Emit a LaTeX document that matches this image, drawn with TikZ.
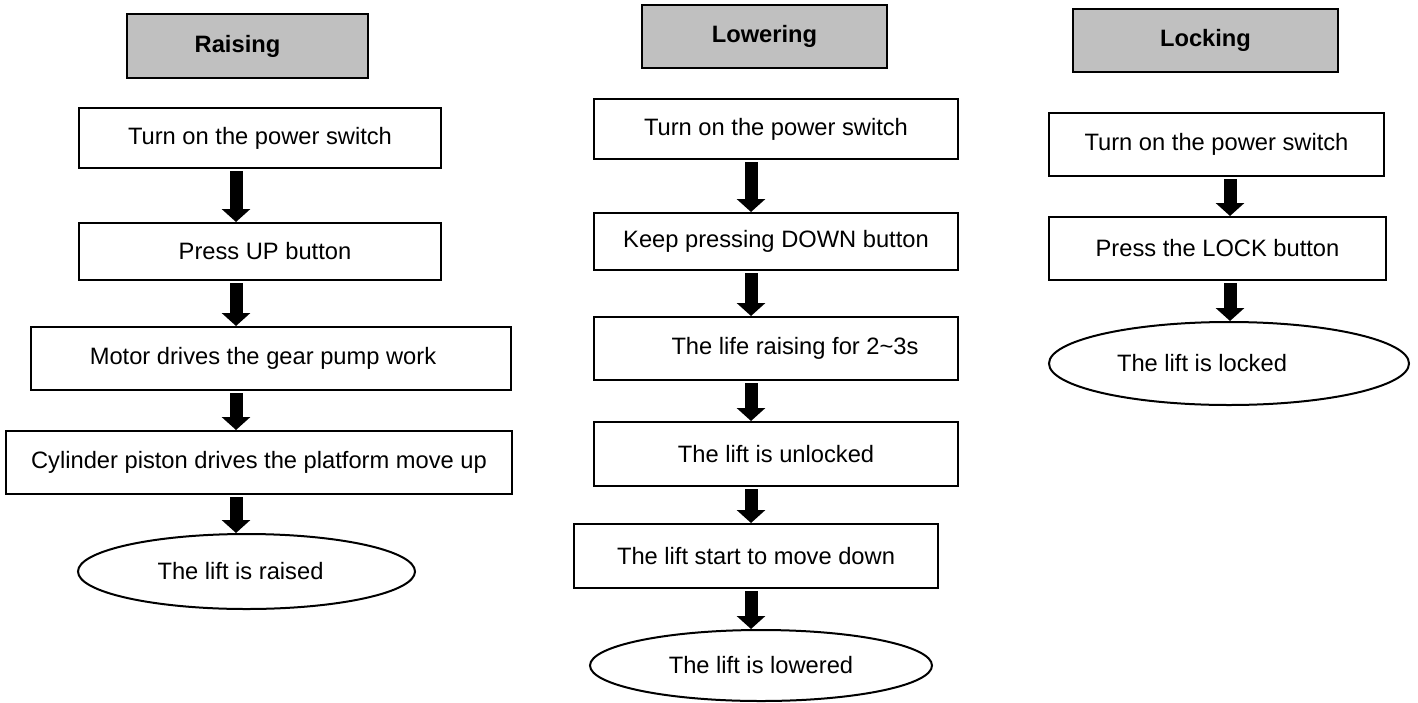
\documentclass[tikz,border=0pt]{standalone}
\usepackage{fontspec}
\setmainfont{Liberation Sans}
\usetikzlibrary{arrows.meta,shapes.geometric}
\newcommand{\flowfont}{\fontsize{11.85}{14}\selectfont}
\tikzset{
  stepbox/.style = {draw, line width=1pt, rectangle, inner sep=0pt, align=center},
  titlebox/.style = {stepbox, fill={rgb,255:red,192;green,192;blue,192}, font=\flowfont\bfseries},
  endoval/.style = {draw, line width=1pt, ellipse, inner sep=0pt},
  flow/.style = {line width=6.5pt, -{Triangle[width=14pt,length=6.5pt]}, shorten <=1pt}
}
\begin{document}
\begin{tikzpicture}[x = 0.5pt, y = -0.5pt, font = \flowfont]
	\useasboundingbox (0,0) rectangle (1418,702);
	% raising
	\node (R0) at (247.5,46) [titlebox, minimum width=120.5pt, minimum height=32pt] {Raising\hspace*{10pt}};
	\node (R1) at (260,138) [stepbox, minimum width=181pt, minimum height=30pt] {Turn on the power switch};
	\node (R2) at (260,251.5) [stepbox, minimum width=181pt, minimum height=28.5pt] {\hspace*{5pt}Press UP button};
	\node (R3) at (271,358.5) [stepbox, minimum width=240pt, minimum height=31.5pt] {Motor drives the gear pump work\hspace*{8pt}};
	\node (R4) at (259,462.5) [stepbox, minimum width=253pt, minimum height=31.5pt] {Cylinder piston drives the platform move up};
	\node (R5) at (246.5,571.5) [endoval, minimum width=168.5pt, minimum height=37.5pt] {The lift is raised\hspace*{6pt}};
	\coordinate (rx) at (236,0);
	\foreach \a/\b in {R1/R2,R2/R3,R3/R4,R4/R5}
		\draw[flow] (\a.south -| rx) -- (\b.north -| rx);
	% lowering
	\node (L0) at (764.5,36.5) [titlebox, minimum width=122.5pt, minimum height=31.5pt] {Lowering};
	\node (L1) at (776,129) [stepbox, minimum width=182pt, minimum height=30pt] {Turn on the power switch};
	\node (L2) at (776,241.5) [stepbox, minimum width=182pt, minimum height=28.5pt] {Keep pressing DOWN button};
	\node (L3) at (776,348.5) [stepbox, minimum width=182pt, minimum height=31.5pt] {\hspace*{19pt}The life raising for 2\textasciitilde3s};
	\node (L4) at (776,454) [stepbox, minimum width=182pt, minimum height=32pt] {The lift is unlocked};
	\node (L5) at (756,556) [stepbox, minimum width=182pt, minimum height=32pt] {The lift start to move down};
	\node (L6) at (761,665.5) [endoval, minimum width=171pt, minimum height=35.5pt] {The lift is lowered};
	\coordinate (lx) at (751,0);
	\foreach \a/\b in {L1/L2,L2/L3,L3/L4,L4/L5,L5/L6}
		\draw[flow] (\a.south -| lx) -- (\b.north -| lx);
	% locking
	\node (K0) at (1205.5,40.5) [titlebox, minimum width=132.5pt, minimum height=31.5pt] {Locking};
	\node (K1) at (1216.5,144.5) [stepbox, minimum width=167.5pt, minimum height=31.5pt] {Turn on the power switch};
	\node (K2) at (1217.5,248.5) [stepbox, minimum width=168.5pt, minimum height=31.5pt] {Press the LOCK button};
	\node (K3) at (1229,363.5) [endoval, minimum width=180pt, minimum height=41.5pt] {The lift is locked\hspace*{27pt}};
	\coordinate (kx) at (1230,0);
	\foreach \a/\b in {K1/K2,K2/K3}
		\draw[flow] (\a.south -| kx) -- (\b.north -| kx);
\end{tikzpicture}
\end{document}
